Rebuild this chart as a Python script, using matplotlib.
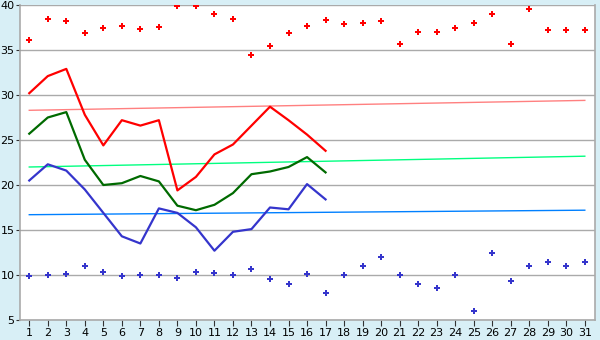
import matplotlib
matplotlib.use("Agg")
import matplotlib.pyplot as plt
import numpy as np

days = list(range(1, 32))

max_points = [36.1, 38.4, 38.2, 36.9, 37.5, 37.7, 37.3, 37.6, 39.9, 39.9,
              39.0, 38.5, 34.4, 35.4, 36.9, 37.7, 38.3, 37.9, 38.0, 38.2,
              35.7, 37.0, 37.0, 37.4, 38.0, 39.0, 35.7, 39.6, 37.2, 37.2, 37.2]
min_points = [9.9, 10.0, 10.1, 11.0, 10.3, 9.9, 10.0, 10.0, 9.7, 10.3,
              10.2, 10.0, 10.7, 9.6, 9.0, 10.1, 8.0, 10.0, 11.0, 12.0,
              10.0, 9.0, 8.6, 10.0, 6.0, 12.5, 9.3, 11.0, 11.5, 11.0, 11.5]

line_days = list(range(1, 18))
max_line = [30.2, 32.1, 32.9, 27.8, 24.4, 27.2, 26.6, 27.2, 19.4, 20.9,
            23.4, 24.5, 26.6, 28.7, 27.2, 25.6, 23.8]
mean_line = [25.7, 27.5, 28.1, 22.8, 20.0, 20.2, 21.0, 20.4, 17.7, 17.2,
             17.8, 19.1, 21.2, 21.5, 22.0, 23.1, 21.4]
min_line = [20.5, 22.3, 21.6, 19.5, 16.9, 14.3, 13.5, 17.4, 16.9, 15.3,
            12.7, 14.8, 15.1, 17.5, 17.3, 20.1, 18.4]

trend_days = [1, 31]
max_trend = [28.3, 29.4]
mean_trend = [22.0, 23.2]
min_trend = [16.7, 17.2]

y_ticks = [5, 10, 15, 20, 25, 30, 35, 40]

bg = '#d8eff6'
fig = plt.figure(figsize=(6, 3.4), dpi=100, facecolor=bg)
ax = fig.add_axes([20/600, 1-320/340, 575/600, 315/340])
ax.set_facecolor('white')

ax.set_xlim(0.5, 31.55)
ax.set_ylim(5, 40)
ax.set_yticks(y_ticks)
ax.set_xticks(days)
ax.grid(axis='y', color='#aaaaaa', linewidth=1.0)
ax.set_axisbelow(True)

for s in ['left', 'bottom', 'right', 'top']:
    ax.spines[s].set_color('#aaaaaa')
    ax.spines[s].set_linewidth(1.2)
ax.spines['top'].set_visible(False)

ax.tick_params(axis='x', length=4, color='#333333', labelsize=8, pad=2, direction='out')
ax.tick_params(axis='y', length=3, color='#333333', labelsize=8, pad=1, direction='out')

# trend lines
ax.plot(trend_days, max_trend, color='#ff8080', linewidth=1.0)
ax.plot(trend_days, mean_trend, color='#00ff80', linewidth=1.0)
ax.plot(trend_days, min_trend, color='#0080ff', linewidth=1.0)

# daily lines
ax.plot(line_days, max_line, color='#ff0000', linewidth=1.6)
ax.plot(line_days, mean_line, color='#006a00', linewidth=1.6)
ax.plot(line_days, min_line, color='#3535cc', linewidth=1.6)

# markers
ax.plot(days, max_points, linestyle='none', marker='P', markersize=5,
        color='#ff0000', markeredgewidth=0)
ax.plot(days, min_points, linestyle='none', marker='P', markersize=5,
        color='#3535cc', markeredgewidth=0)

fig.savefig('out.png', dpi=100, facecolor=bg)
